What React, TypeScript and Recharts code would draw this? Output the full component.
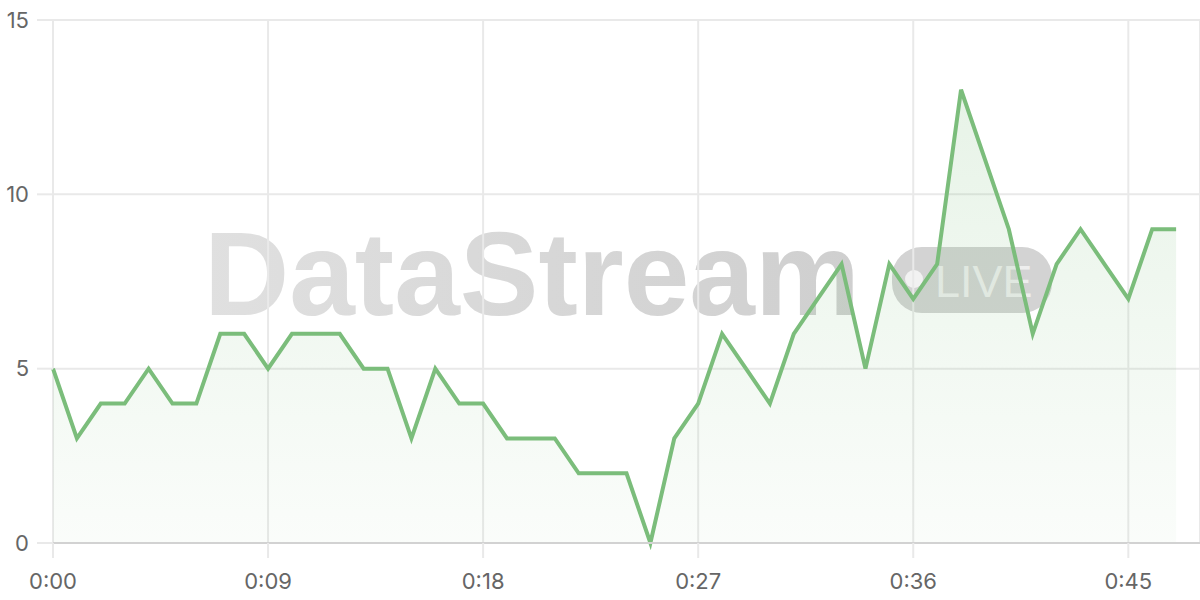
import React from "react";
import { AreaChart, Area, XAxis, YAxis, CartesianGrid } from "recharts";

const values = [
  5, 3, 4, 4, 5, 4, 4, 6, 6, 5,
  6, 6, 6, 5, 5, 3, 5, 4, 4, 3,
  3, 3, 2, 2, 2, 0, 3, 4, 6, 5,
  4, 6, 7, 8, 5, 8, 7, 8, 13, 11,
  9, 6, 8, 9, 8, 7, 9, 9,
];
const xTicks = [0, 9, 18, 27, 36, 45];
const yTicks = [0, 5, 10, 15];
const watermarkTitle = "DataStream";
const watermarkBadge = "LIVE";

const data = values.map((v, i) => ({ t: i, v }));

const fmtTime = (s: number) => `${Math.floor(s / 60)}:${String(s % 60).padStart(2, "0")}`;

const FONT = "Inter, 'Liberation Sans', Arial, sans-serif";
const GREEN = "#7bbd7b";

export default function App() {
  return (
    <div style={{ position: "absolute", left: 0, top: 0, width: 1200, height: 600, background: "#fff" }}>
      <svg width={1200} height={600} style={{ position: "absolute", left: 0, top: 0 }}>
        <defs>
          <linearGradient id="wm" x1="0" y1="0" x2="1" y2="0">
            <stop offset="0%" stopColor="#e0e0e0" />
            <stop offset="100%" stopColor="#cfcfcf" />
          </linearGradient>
        </defs>
        <text x={204} y={315} fontFamily="'Liberation Sans', Arial, sans-serif" fontWeight={700} fontSize={118} fill="url(#wm)">
          {watermarkTitle}
        </text>
        <rect x={892} y={247} width={160} height={66} rx={30} fill="#d3d3d3" />
        <circle cx={914} cy={279} r={9} fill="#f2f2f2" />
        <text x={935} y={297} fontFamily="'Liberation Sans', Arial, sans-serif" fontSize={45} fill="#eeeeee">
          {watermarkBadge}
        </text>
      </svg>
      <div style={{ position: "absolute", left: 0, top: 0 }}>
        <AreaChart width={1200} height={600} data={data} margin={{ top: 20, right: 0, bottom: 0, left: 0 }}>
          <defs>
            <linearGradient id="fillG" x1="0" y1="0" x2="0" y2="1">
              <stop offset="0%" stopColor={GREEN} stopOpacity={0.3} />
              <stop offset="100%" stopColor={GREEN} stopOpacity={0.06} />
            </linearGradient>
          </defs>
          <CartesianGrid stroke="#e9e9e9" strokeWidth={2} />
          <XAxis
            dataKey="t"
            type="number"
            domain={[0, 48]}
            ticks={xTicks}
            tickFormatter={fmtTime}
            height={57}
            axisLine={{ stroke: "#d2d2d2", strokeWidth: 2 }}
            tickLine={{ stroke: "#e9e9e9", strokeWidth: 2 }}
            tickSize={15}
            tickMargin={15}
            tick={{ fill: "#666", fontSize: 22, fontFamily: FONT }}
            interval={0}
          />
          <YAxis
            type="number"
            domain={[0, 15]}
            ticks={yTicks}
            width={53}
            axisLine={false}
            tickLine={{ stroke: "#e9e9e9", strokeWidth: 2 }}
            tickSize={16}
            tickMargin={8}
            tick={{ fill: "#666", fontSize: 22, fontFamily: FONT }}
            interval={0}
          />
          <Area
            type="linear"
            dataKey="v"
            stroke={GREEN}
            strokeWidth={4}
            fill="url(#fillG)"
            dot={false}
            activeDot={false}
            isAnimationActive={false}
          />
        </AreaChart>
      </div>
    </div>
  );
}
